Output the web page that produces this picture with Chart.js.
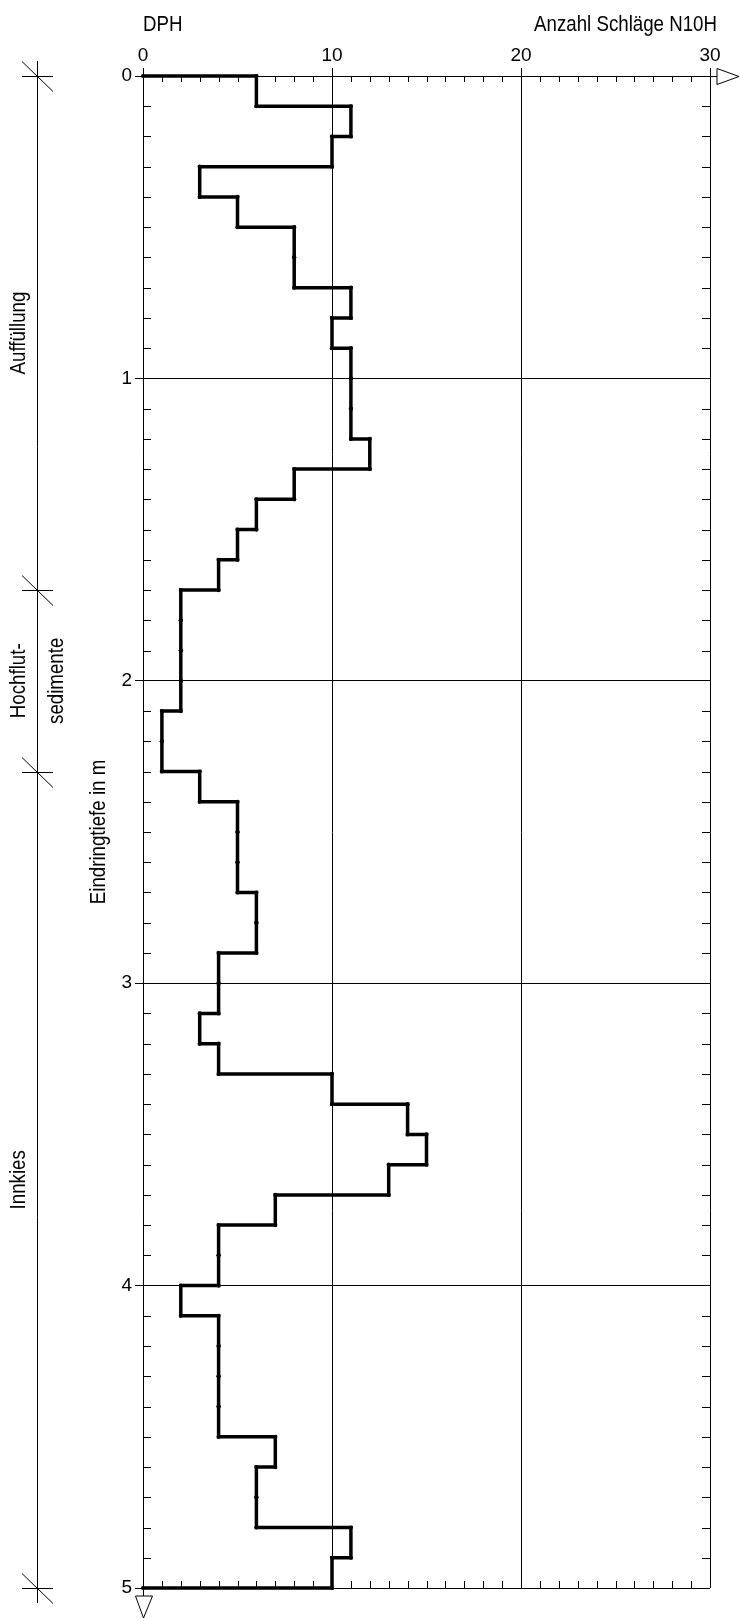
<!DOCTYPE html>
<html>
<head>
<meta charset="utf-8">
<script src="https://cdn.jsdelivr.net/npm/chart.js@4"></script>
<style>
  body { margin: 0; background: #fff; }
  canvas { display: block; }
</style>
</head>
<body>
<canvas id="dphChart" width="740" height="1619"></canvas>
<script>
// depth steps of the sounding (m) and blows per 10 cm
const depths = [0.0, 0.1, 0.2, 0.3, 0.4, 0.5, 0.6, 0.7, 0.8, 0.9,
                1.0, 1.1, 1.2, 1.3, 1.4, 1.5, 1.6, 1.7, 1.8, 1.9,
                2.0, 2.1, 2.2, 2.3, 2.4, 2.5, 2.6, 2.7, 2.8, 2.9,
                3.0, 3.1, 3.2, 3.3, 3.4, 3.5, 3.6, 3.7, 3.8, 3.9,
                4.0, 4.1, 4.2, 4.3, 4.4, 4.5, 4.6, 4.7, 4.8, 4.9, 5.0];
const blows = [6, 11, 10, 3, 5, 8, 8, 11, 10, 11,
               11, 11, 12, 8, 6, 5, 4, 2, 2, 2,
               2, 1, 1, 3, 5, 5, 5, 6, 6, 4,
               4, 3, 4, 10, 14, 15, 13, 7, 4, 4,
               2, 4, 4, 4, 4, 7, 6, 6, 11, 10];

// soil layers
const layerBounds = [0, 1.7, 2.3, 5.0];
const layerNames = [['Auffüllung'], ['Hochflut-', 'sedimente'], ['Innkies']];

const xMin = 0, xMax = 30, xStep = 10;
const yMin = 0, yMax = 5, yStep = 1;

const FONT = '"Liberation Sans", Arial, sans-serif';
const NARROW = 0.85; // the drawing uses a narrow sans, squeeze the text a bit

// step outline of the blow counts
const profile = [{ x: 0, y: depths[0] }];
blows.forEach((n, i) => {
  profile.push({ x: n, y: depths[i] }, { x: n, y: depths[i + 1] });
});
profile.push({ x: 0, y: depths[depths.length - 1] });

function narrowText(ctx, txt, x, y, rot, align) {
  ctx.save();
  ctx.translate(x, y);
  if (rot) ctx.rotate(rot);
  ctx.scale(NARROW, 1);
  ctx.textAlign = align;
  ctx.fillText(txt, 0, 0);
  ctx.restore();
}

const decor = {
  id: 'decor',
  beforeDatasetsDraw(chart) {
    const { ctx, chartArea: a, scales: { x, y } } = chart;
    ctx.save();
    ctx.strokeStyle = '#000';
    ctx.lineWidth = 1;
    ctx.beginPath();
    // small ticks along top and bottom edge
    for (let v = xMin + 1; v < xMax; v++) {
      if (v % xStep === 0) continue;
      const px = Math.round(x.getPixelForValue(v)) + 0.5;
      ctx.moveTo(px, a.top); ctx.lineTo(px, a.top + 6);
      ctx.moveTo(px, a.bottom); ctx.lineTo(px, a.bottom - 7);
    }
    // small ticks along left and right edge
    depths.forEach(d => {
      if (Math.abs(d - Math.round(d)) < 1e-6) return;
      const py = Math.round(y.getPixelForValue(d)) + 0.5;
      ctx.moveTo(a.left, py); ctx.lineTo(a.left + 8, py);
      ctx.moveTo(a.right, py); ctx.lineTo(a.right - 8, py);
    });
    ctx.stroke();
    ctx.restore();
  },
  afterDraw(chart) {
    const { ctx, chartArea: a, scales: { y } } = chart;
    ctx.save();
    ctx.strokeStyle = '#000';
    ctx.fillStyle = '#000';
    ctx.lineWidth = 1;

    // axis arrows
    const ay = Math.round(a.top) + 0.5;
    const ax = Math.round(a.left) + 0.5;
    ctx.beginPath();
    ctx.moveTo(a.right, ay); ctx.lineTo(717, ay);
    ctx.moveTo(717, ay - 8); ctx.lineTo(739, ay); ctx.lineTo(717, ay + 8); ctx.closePath();
    ctx.moveTo(ax, a.bottom); ctx.lineTo(ax, 1596);
    ctx.moveTo(ax - 8, 1596); ctx.lineTo(ax + 9, 1596); ctx.lineTo(ax, 1618); ctx.closePath();
    ctx.stroke();

    // layer column
    const cx = 37.5;
    const top = y.getPixelForValue(layerBounds[0]);
    const bot = y.getPixelForValue(layerBounds[layerBounds.length - 1]);
    ctx.beginPath();
    ctx.moveTo(cx, top - 15); ctx.lineTo(cx, bot + 15);
    layerBounds.forEach(d => {
      const py = Math.round(y.getPixelForValue(d)) + 0.5;
      ctx.moveTo(22, py); ctx.lineTo(53, py);
      ctx.moveTo(22, py - 15); ctx.lineTo(53, py + 15);
    });
    ctx.stroke();

    ctx.font = '22px ' + FONT;
    ctx.textBaseline = 'alphabetic';
    layerNames.forEach((lines, i) => {
      const mid = (y.getPixelForValue(layerBounds[i]) + y.getPixelForValue(layerBounds[i + 1])) / 2;
      lines.forEach((txt, j) => {
        narrowText(ctx, txt, j === 0 ? 25 : 63, mid, -Math.PI / 2, 'center');
      });
    });

    // depth axis title
    narrowText(ctx, 'Eindringtiefe in m', 105, (a.top + a.bottom) / 2, -Math.PI / 2, 'center');

    // header texts
    narrowText(ctx, 'DPH', a.left, 31, 0, 'left');
    narrowText(ctx, 'Anzahl Schläge N10H', 717, 31, 0, 'right');
    ctx.restore();
  }
};

Chart.defaults.font.family = FONT;
Chart.defaults.color = '#000';

new Chart(document.getElementById('dphChart'), {
  type: 'scatter',
  data: {
    datasets: [{
      label: 'N10H',
      data: profile,
      showLine: true,
      borderColor: '#000',
      borderWidth: 3.5,
      borderJoinStyle: 'miter',
      pointRadius: 2.1,
      pointBorderWidth: 0,
      pointBackgroundColor: '#000',
      tension: 0,
      clip: 6
    }]
  },
  options: {
    responsive: false,
    animation: false,
    devicePixelRatio: 1,
    layout: { padding: { left: 0, top: 0, right: 30, bottom: 31 } },
    plugins: {
      legend: { display: false },
      tooltip: { enabled: false }
    },
    scales: {
      x: {
        type: 'linear',
        position: 'top',
        min: xMin,
        max: xMax,
        ticks: { stepSize: xStep, padding: 1, font: { size: 19 }, maxRotation: 0 },
        grid: { color: '#000', lineWidth: 1, tickLength: 8 },
        border: { display: true, color: '#000', width: 1 },
        afterFit: s => { s.height = 76; }
      },
      y: {
        type: 'linear',
        position: 'left',
        reverse: true,
        min: yMin,
        max: yMax,
        ticks: { stepSize: yStep, padding: 3, font: { size: 19 } },
        grid: { color: '#000', lineWidth: 1, tickLength: 8 },
        border: { display: true, color: '#000', width: 1 },
        afterFit: s => { s.width = 143; }
      }
    }
  },
  plugins: [decor]
});
</script>
</body>
</html>
